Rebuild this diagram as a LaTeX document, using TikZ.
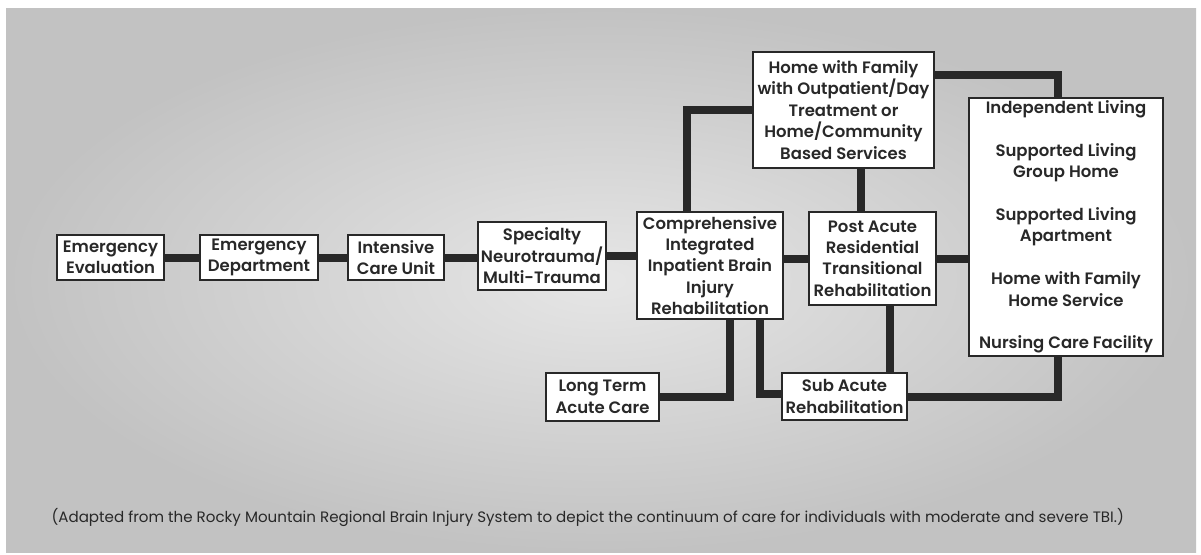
\documentclass[tikz,border=0pt]{standalone}
\usepackage{fontspec}
\setmainfont{Poppins}[BoldFont={* SemiBold}]
\usepackage{tikz}
\usetikzlibrary{positioning}
\definecolor{ink}{RGB}{40,40,40}
\definecolor{panelin}{RGB}{230,230,230}
\definecolor{panelout}{RGB}{194,194,194}

\begin{document}
\begin{tikzpicture}[x=1pt,y=-1pt,
  care/.style={draw=ink,line width=2.4pt,fill=white,text=ink,align=center,inner sep=0pt,
    font=\bfseries\fontsize{16.5}{21.4}\selectfont},
  link/.style={draw=ink,line width=8pt}]
  \useasboundingbox (0,0) rectangle (1201,554);
  \shade[inner color=panelin,outer color=panelout] (6,8) rectangle (1196,552);

  \node[care,minimum width=107pt,minimum height=45pt](ee) at (110.5,257.5){Emergency\\Evaluation};
  \node[care,minimum width=118pt,minimum height=45pt](ed) at (259,257.5){Emergency\\Department};
  \node[care,minimum width=96pt,minimum height=45pt](icu) at (396,257.5){Intensive\\Care Unit};
  \node[care,minimum width=128pt,minimum height=68pt](spec) at (542,256){Specialty\\Neurotrauma/\\Multi-Trauma};
  \node[care,minimum width=146pt,minimum height=107pt](comp) at (710,265.5){Comprehensive\\Integrated\\Inpatient Brain\\Injury\\Rehabilitation};
  \node[care,minimum width=127pt,minimum height=93pt](post) at (872.5,258.5){Post Acute\\Residential\\Transitional\\Rehabilitation};
  \node[care,minimum width=181pt,minimum height=116pt](home) at (843.5,110){Home with Family\\with Outpatient/Day\\Treatment or\\Home/Community\\Based Services};
  \node[care,minimum width=194pt,minimum height=258pt](live) at (1066,227){Independent Living\\[21.4pt]Supported Living\\Group Home\\[21.4pt]Supported Living\\Apartment\\[21.4pt]Home with Family\\Home Service\\[21.4pt]Nursing Care Facility};
  \node[care,minimum width=113pt,minimum height=48pt](ltac) at (602.5,397){Long Term\\Acute Care};
  \node[care,minimum width=125pt,minimum height=47pt](sub) at (844.5,396.5){Sub Acute\\Rehabilitation};

  \draw[link] (ee.east) -- (ed.west);
  \draw[link] (ed.east) -- (icu.west);
  \draw[link] (icu.east) -- (spec.west |- icu.east);
  \draw[link] (spec.east) -- (spec.east -| comp.west);
  \draw[link] (post.west -| comp.east) -- (post.west);
  \draw[link] (post.east) -- (post.east -| live.west);
  \draw[link] (home.west) -| ([xshift=-23pt]comp.north);
  \draw[link] ([xshift=-12pt]post.north) -- ([xshift=-12pt]post.north |- home.south);
  \draw[link] ([yshift=-24pt]home.north east) -| ([xshift=-8pt]live.north);
  \draw[link] (ltac.east) -| ([xshift=20pt]comp.south);
  \draw[link] ([xshift=50pt]comp.south) |- ([yshift=3pt]sub.west);
  \draw[link] ([xshift=17pt]post.south) -- ([xshift=17pt]post.south |- sub.north);
  \draw[link] (sub.east) -| ([xshift=-8pt]live.south);

  \node[anchor=west,text=ink,font=\fontsize{15.1}{16}\selectfont](note) at (48,517){(Adapted from the Rocky Mountain Regional Brain Injury System to depict the continuum of care for individuals with moderate and severe TBI.)};
\end{tikzpicture}
\end{document}
